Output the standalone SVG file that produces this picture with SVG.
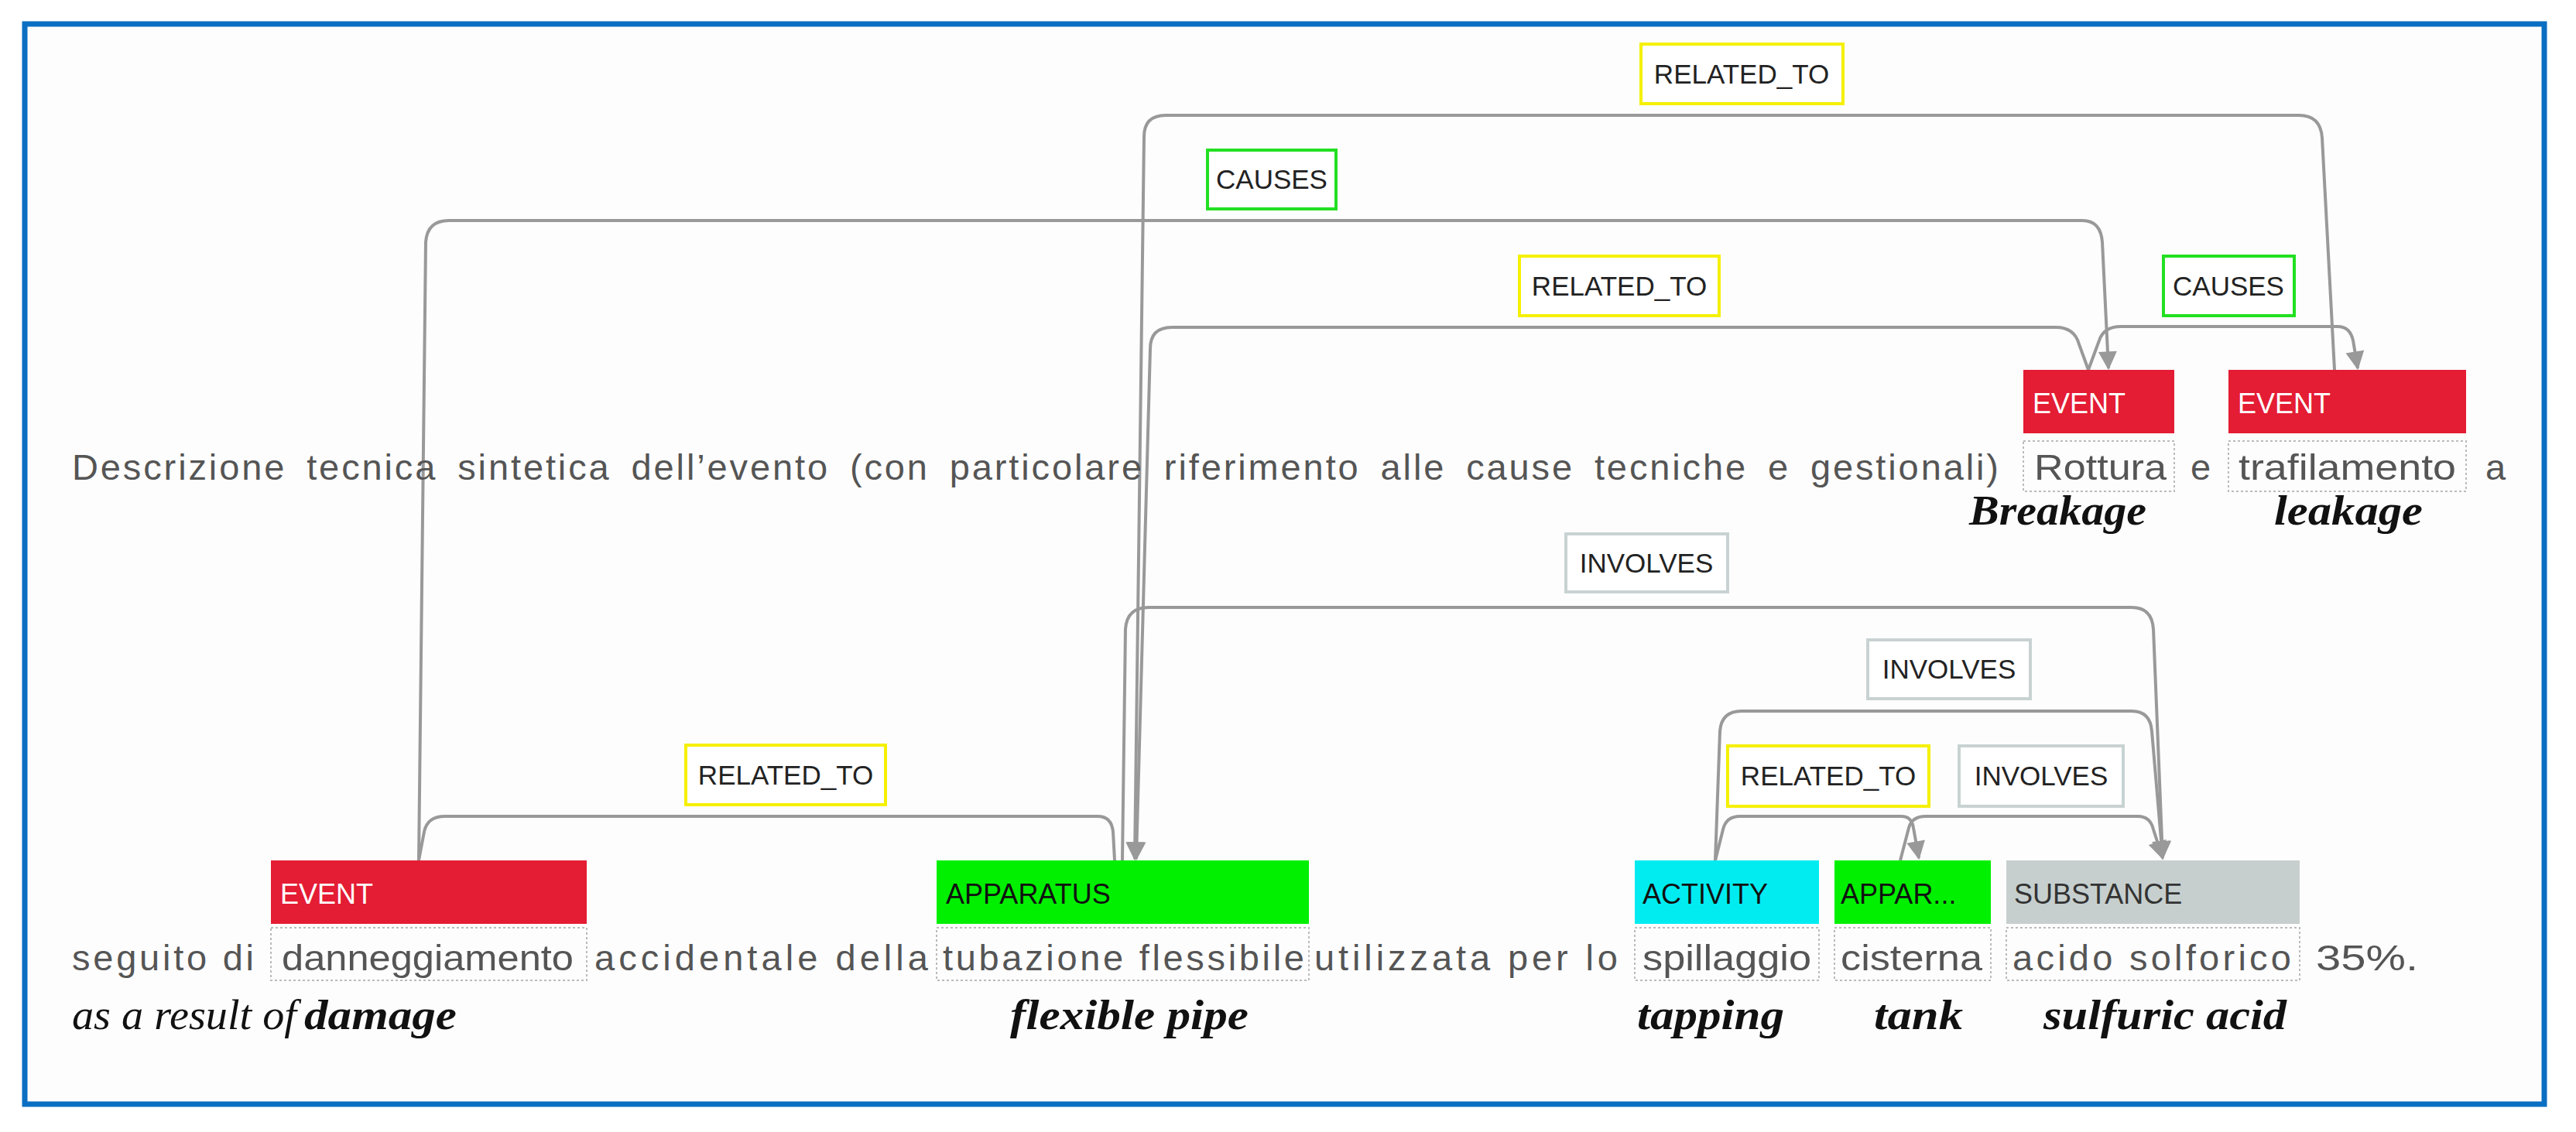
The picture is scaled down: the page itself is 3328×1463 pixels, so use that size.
<svg xmlns="http://www.w3.org/2000/svg" width="3328" height="1463" viewBox="0 0 3328 1463">
<style>
.body{font-family:"Liberation Sans","Noto Sans",sans-serif;font-size:47px;fill:#555}
.en{font-family:"Liberation Serif","DejaVu Serif",serif;font-size:54px;font-style:italic;fill:#111}
.b{font-weight:bold}
.ent{font-family:"Liberation Sans","Noto Sans",sans-serif;font-size:36px}
.lab{font-family:"Liberation Sans","Noto Sans",sans-serif;font-size:35px;fill:#222;text-anchor:middle}
.lb{fill:#fff;stroke-width:4}
.tok{fill:none;stroke:#bbb;stroke-width:2;stroke-dasharray:3 3}
.edge{fill:none;stroke:#999;stroke-width:4}
</style>
<defs>
<marker id="ah" markerWidth="10" markerHeight="10" refX="9" refY="5" orient="auto" markerUnits="userSpaceOnUse" viewBox="0 0 10 10" style="overflow:visible">
<path d="M0,0 L10,5 L0,10 Z" fill="#999" transform="scale(2.4) translate(-5.3,-2.9)"/>
</marker>
</defs>
<rect x="0" y="0" width="3328" height="1463" fill="#fff"/>
<rect x="32" y="31" width="3255" height="1396" fill="#fdfdfd" stroke="#0a6fc2" stroke-width="7"/>

<g id="connectors">
<path class="edge" d="M3016,478 L3000,178 Q2998,149 2970,149 L1506,149 Q1478,149 1478,177 L1466,1110" marker-end="url(#ah)"/>
<path class="edge" d="M541,1112 L550,313 Q552,285 580,285 L2690,285 Q2714,285 2716,313 L2724,476" marker-end="url(#ah)"/>
<path class="edge" d="M2698,478 L2686,445 Q2680,423 2656,423 L1514,423 Q1486,423 1486,451 L1468,1110" marker-end="url(#ah)"/>
<path class="edge" d="M2698,478 L2712,440 Q2718,422 2740,422 L3020,422 Q3036,422 3040,440 L3046,476" marker-end="url(#ah)"/>
<path class="edge" d="M1450,1112 L1454,813 Q1456,785 1484,785 L2754,785 Q2780,785 2782,813 L2794,1109" marker-end="url(#ah)"/>
<path class="edge" d="M2216,1112 L2222,945 Q2224,919 2250,919 L2754,919 Q2778,919 2780,945 L2794,1109" marker-end="url(#ah)"/>
<path class="edge" d="M2216,1112 L2226,1072 Q2230,1055 2248,1055 L2456,1055 Q2470,1055 2472,1070 L2479,1109" marker-end="url(#ah)"/>
<path class="edge" d="M2455,1112 L2466,1070 Q2470,1055 2488,1055 L2762,1055 Q2778,1055 2782,1072 L2794,1109" marker-end="url(#ah)"/>
<path class="edge" d="M541,1112 L548,1075 Q552,1055 575,1055 L1418,1055 Q1436,1055 1438,1075 L1440,1112"/>
</g>

<g id="edge-labels">
<rect class="lb" x="2120" y="57" width="261" height="77" stroke="#f5f000"/><text class="lab" x="2250" y="108">RELATED_TO</text>
<rect class="lb" x="1560" y="194" width="166" height="76" stroke="#22e022"/><text class="lab" x="1643" y="244">CAUSES</text>
<rect class="lb" x="1963" y="331" width="258" height="77" stroke="#f5f000"/><text class="lab" x="2092" y="382">RELATED_TO</text>
<rect class="lb" x="2795" y="331" width="169" height="77" stroke="#22e022"/><text class="lab" x="2879" y="382">CAUSES</text>
<rect class="lb" x="2023" y="690" width="209" height="75" stroke="#c8d2d2"/><text class="lab" x="2127" y="740">INVOLVES</text>
<rect class="lb" x="2413" y="827" width="210" height="76" stroke="#c8d2d2"/><text class="lab" x="2518" y="877">INVOLVES</text>
<rect class="lb" x="2232" y="964" width="260" height="78" stroke="#f5f000"/><text class="lab" x="2362" y="1015">RELATED_TO</text>
<rect class="lb" x="2531" y="964" width="212" height="78" stroke="#c8d2d2"/><text class="lab" x="2637" y="1015">INVOLVES</text>
<rect class="lb" x="886" y="963" width="258" height="77" stroke="#f5f000"/><text class="lab" x="1015" y="1014">RELATED_TO</text>
</g>

<g id="line1">
<text class="body" x="93" y="620" textLength="2489" lengthAdjust="spacing" word-spacing="10">Descrizione tecnica sintetica dell’evento (con particolare riferimento alle cause tecniche e gestionali)</text>
<text class="body" x="2830" y="620">e</text>
<text class="body" x="3211" y="620">a</text>
</g>
<g id="node-rottura">
<rect x="2614" y="478" width="195" height="82" fill="#e41c34"/>
<text class="ent" x="2626" y="534" fill="#fff">EVENT</text>
<rect class="tok" x="2614" y="570" width="195" height="65"/>
<text class="body" x="2628" y="620" textLength="171" lengthAdjust="spacingAndGlyphs">Rottura</text>
<text class="en b" x="2544" y="678" textLength="229" lengthAdjust="spacingAndGlyphs">Breakage</text>
</g>
<g id="node-trafilamento">
<rect x="2879" y="478" width="307" height="82" fill="#e41c34"/>
<text class="ent" x="2891" y="534" fill="#fff">EVENT</text>
<rect class="tok" x="2879" y="570" width="307" height="65"/>
<text class="body" x="2892" y="620" textLength="281" lengthAdjust="spacingAndGlyphs">trafilamento</text>
<text class="en b" x="2938" y="678" textLength="192" lengthAdjust="spacingAndGlyphs">leakage</text>
</g>

<g id="line2">
<text class="body" x="93" y="1254" textLength="235" lengthAdjust="spacing">seguito di</text>
<text class="body" x="768" y="1254" textLength="431" lengthAdjust="spacing">accidentale della</text>
<text class="body" x="1698" y="1254" textLength="392" lengthAdjust="spacing">utilizzata per lo</text>
<text class="body" x="2992" y="1254" textLength="132" lengthAdjust="spacingAndGlyphs">35%.</text>
<text class="en" x="93" y="1330" textLength="290" lengthAdjust="spacingAndGlyphs">as a result of</text>
</g>
<g id="node-damage">
<rect x="350" y="1112" width="408" height="82" fill="#e41c34"/>
<text class="ent" x="362" y="1168" fill="#fff">EVENT</text>
<rect class="tok" x="350" y="1199" width="408" height="68"/>
<text class="body" x="364" y="1254" textLength="377" lengthAdjust="spacingAndGlyphs">danneggiamento</text>
<text class="en b" x="393" y="1330" textLength="197" lengthAdjust="spacingAndGlyphs">damage</text>
</g>
<g id="node-pipe">
<rect x="1210" y="1112" width="481" height="82" fill="#00f000"/>
<text class="ent" x="1222" y="1168" fill="#111">APPARATUS</text>
<rect class="tok" x="1210" y="1199" width="481" height="68"/>
<text class="body" x="1218" y="1254" textLength="467" lengthAdjust="spacing">tubazione flessibile</text>
<text class="en b" x="1305" y="1330" textLength="308" lengthAdjust="spacingAndGlyphs">flexible pipe</text>
</g>
<g id="node-activity">
<rect x="2112" y="1112" width="238" height="82" fill="#00ecf0"/>
<text class="ent" x="2122" y="1168" fill="#111">ACTIVITY</text>
<rect class="tok" x="2112" y="1199" width="238" height="68"/>
<text class="body" x="2122" y="1254" textLength="218" lengthAdjust="spacingAndGlyphs">spillaggio</text>
<text class="en b" x="2115" y="1330" textLength="190" lengthAdjust="spacingAndGlyphs">tapping</text>
</g>
<g id="node-tank">
<rect x="2370" y="1112" width="202" height="82" fill="#00f000"/>
<text class="ent" x="2378" y="1168" fill="#111">APPAR...</text>
<rect class="tok" x="2370" y="1199" width="202" height="68"/>
<text class="body" x="2378" y="1254" textLength="183" lengthAdjust="spacingAndGlyphs">cisterna</text>
<text class="en b" x="2421" y="1330" textLength="115" lengthAdjust="spacingAndGlyphs">tank</text>
</g>
<g id="node-substance">
<rect x="2592" y="1112" width="379" height="82" fill="#c6cfce"/>
<text class="ent" x="2602" y="1168" fill="#333">SUBSTANCE</text>
<rect class="tok" x="2592" y="1199" width="379" height="68"/>
<text class="body" x="2600" y="1254" textLength="360" lengthAdjust="spacing">acido solforico</text>
<text class="en b" x="2640" y="1330" textLength="314" lengthAdjust="spacingAndGlyphs">sulfuric acid</text>
</g>
</svg>
